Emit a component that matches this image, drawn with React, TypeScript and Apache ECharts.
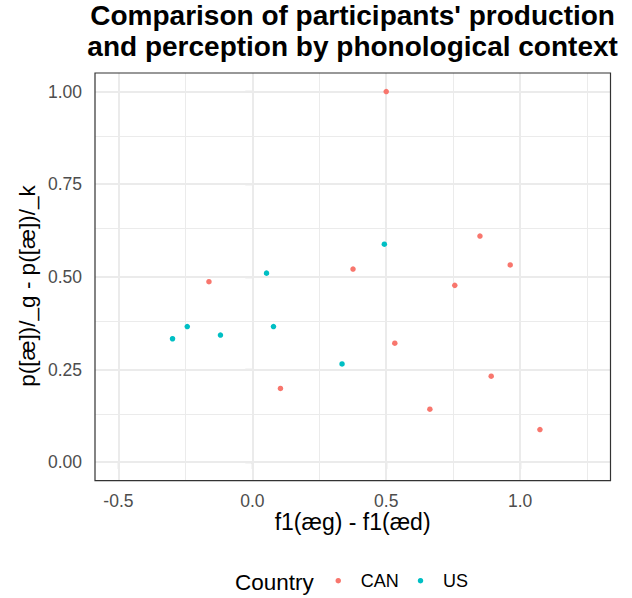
import React, { useEffect, useRef } from "react";
import * as echarts from "echarts";

const canX = [0.5, 0.85, 0.963, 0.376, 0.756, -0.162, 0.532, 0.105, 0.892, 0.663, 1.074];
const canY = [1.0, 0.61, 0.532, 0.521, 0.477, 0.487, 0.321, 0.199, 0.232, 0.143, 0.088];
const usX = [-0.298, -0.243, -0.119, 0.053, 0.079, 0.335, 0.493];
const usY = [0.333, 0.366, 0.343, 0.51, 0.366, 0.265, 0.588];

const xTicks = [-0.5, 0, 0.5, 1.0];
const yTicks = [0, 0.25, 0.5, 0.75, 1.0];
const xMinor = [-0.25, 0.25, 0.75, 1.25];
const yMinor = [0.125, 0.375, 0.625, 0.875];
const xRange = [-0.5875, 1.3375];
const yRange = [-0.05, 1.05];

const titleLines = [
  "Comparison of participants' production",
  "and perception by phonological context",
];
const xTitle = "f1(æg) - f1(æd)";
const yTitle = "p([æ])/_g - p([æ])/_k";
const legendTitle = "Country";
const seriesNames = ["CAN", "US"];

const FONT = "'Liberation Sans', Arial, Helvetica, sans-serif";

export default function App() {
  const ref = useRef<HTMLDivElement>(null);
  useEffect(() => {
    document.body.style.margin = "0";
    const chart = echarts.init(ref.current!, undefined, { renderer: "svg" });
    const gridLine = (axis: "xAxis" | "yAxis", v: number, w: number) => ({
      [axis]: v,
      lineStyle: { color: "#EBEBEB", width: w, type: "solid" },
    });
    const gridMarks = [
      ...xTicks.map((v) => gridLine("xAxis", v, 2)),
      ...yTicks.map((v) => gridLine("yAxis", v, 2)),
      ...xMinor.map((v) => gridLine("xAxis", v, 1)),
      ...yMinor.map((v) => gridLine("yAxis", v, 1)),
    ];
    chart.setOption({
      animation: false,
      textStyle: { fontFamily: FONT },
      grid: {
        left: 95,
        top: 73,
        right: 21.5,
        bottom: 117.3,
        show: true,
        borderColor: "#333333",
        borderWidth: 1.2,
        backgroundColor: "transparent",
        z: 10,
      },
      xAxis: {
        type: "value",
        min: xRange[0],
        max: xRange[1],
        axisLine: { show: false },
        splitLine: { show: false },
        axisTick: {
          show: true,
          length: 7,
          customValues: xTicks,
          lineStyle: { color: "#333333", width: 1.1 },
        },
        axisLabel: {
          customValues: xTicks,
          fontSize: 17.5,
          color: "#4D4D4D",
          margin: 11,
          fontFamily: FONT,
          formatter: (v: number) => v.toFixed(1),
        },
      },
      yAxis: {
        type: "value",
        min: yRange[0],
        max: yRange[1],
        axisLine: { show: false },
        splitLine: { show: false },
        axisTick: {
          show: true,
          length: 7,
          customValues: yTicks,
          lineStyle: { color: "#333333", width: 1.1 },
        },
        axisLabel: {
          customValues: yTicks,
          fontSize: 17.5,
          color: "#4D4D4D",
          margin: 13,
          fontFamily: FONT,
          formatter: (v: number) => v.toFixed(2),
        },
      },
      legend: {
        data: seriesNames,
        left: 330.5,
        top: 565.7,
        orient: "horizontal",
        icon: "circle",
        itemWidth: 35,
        itemHeight: 5.5,
        itemGap: 19,
        textStyle: { fontSize: 18, color: "#000", lineHeight: 20, fontFamily: FONT },
      },
      graphic: [
        {
          type: "text",
          x: 352.6,
          y: 15.7,
          style: {
            text: titleLines[0],
            font: `bold 28px ${FONT}`,
            fill: "#000",
            align: "center",
            verticalAlign: "middle",
          },
        },
        {
          type: "text",
          x: 352.6,
          y: 46.6,
          style: {
            text: titleLines[1],
            font: `bold 28px ${FONT}`,
            fill: "#000",
            align: "center",
            verticalAlign: "middle",
          },
        },
        {
          type: "text",
          x: 352.6,
          y: 522,
          style: {
            text: xTitle,
            font: `23px ${FONT}`,
            fill: "#000",
            align: "center",
            verticalAlign: "middle",
          },
        },
        {
          type: "text",
          x: 27,
          y: 286,
          rotation: Math.PI / 2,
          style: {
            text: yTitle,
            font: `22.5px ${FONT}`,
            fill: "#000",
            align: "center",
            verticalAlign: "middle",
          },
        },
        {
          type: "text",
          x: 235,
          y: 582,
          style: {
            text: legendTitle,
            font: `22.5px ${FONT}`,
            fill: "#000",
            align: "left",
            verticalAlign: "middle",
          },
        },
      ],
      series: [
        {
          type: "scatter",
          name: "__grid",
          data: [],
          silent: true,
          z: 1,
          markLine: {
            silent: true,
            symbol: ["none", "none"],
            label: { show: false },
            emphasis: { disabled: true },
            animation: false,
            data: gridMarks,
          },
        },
        {
          type: "scatter",
          name: seriesNames[0],
          data: canX.map((x, i) => [x, canY[i]]),
          symbolSize: 5.5,
          itemStyle: { color: "#F8766D", opacity: 1 },
          z: 5,
        },
        {
          type: "scatter",
          name: seriesNames[1],
          data: usX.map((x, i) => [x, usY[i]]),
          symbolSize: 5.5,
          itemStyle: { color: "#00BFC4", opacity: 1 },
          z: 5,
        },
      ],
    });
    return () => chart.dispose();
  }, []);
  return <div ref={ref} style={{ width: 632, height: 598 }} />;
}
